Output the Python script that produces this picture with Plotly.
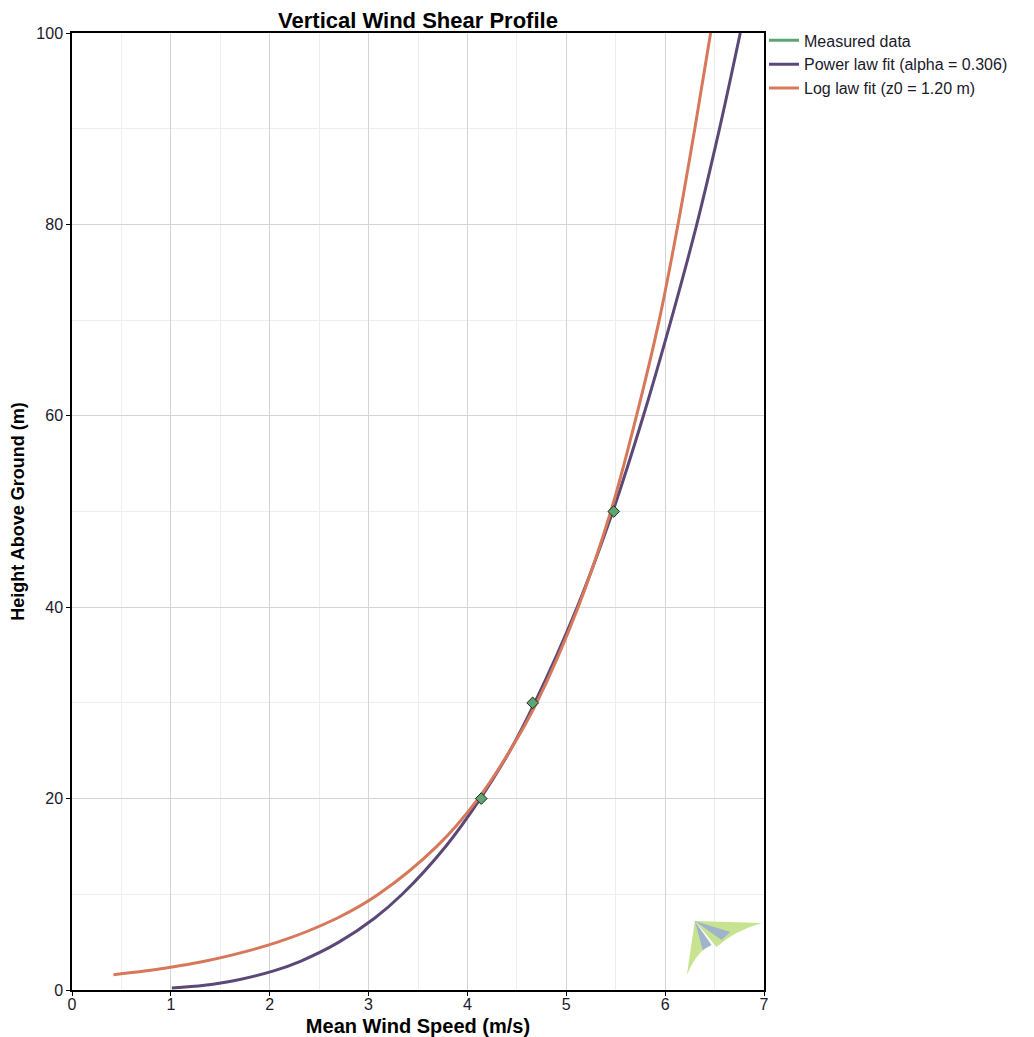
import plotly.graph_objects as go

# Measured data
meas_speed = [4.14, 4.66, 5.48]
meas_height = [20, 30, 50]

# Power law fit (alpha = 0.306)
pow_height = [0.2, 0.5, 1, 2, 3, 5, 7.5, 10, 15, 20, 25, 30, 40, 50, 60, 70, 80, 90, 100]
pow_speed = [1.01, 1.34, 1.65, 2.04, 2.31, 2.70, 3.06, 3.34, 3.78, 4.13, 4.43, 4.68, 5.11, 5.47, 5.78, 6.06, 6.32, 6.55, 6.76]

# Log law fit (z0 = 1.20 m)
log_height = [1.6, 2, 3, 5, 7.5, 10, 15, 20, 25, 30, 40, 50, 60, 70, 80, 90, 100]
log_speed = [0.42, 0.75, 1.34, 2.08, 2.68, 3.10, 3.69, 4.11, 4.43, 4.70, 5.12, 5.45, 5.71, 5.94, 6.13, 6.30, 6.46]

C_MEAS = "#5fa574"
C_POW = "#5b4877"
C_LOG = "#d8785a"
FONT = "Liberation Sans, Arial"

fig = go.Figure()
fig.add_trace(go.Scatter(x=[None], y=[None], mode="lines", name="Measured data",
                         line=dict(color=C_MEAS, width=3)))
fig.add_trace(go.Scatter(x=pow_speed, y=pow_height, mode="lines", name="Power law fit (alpha = 0.306)",
                         line=dict(color=C_POW, width=3, shape="spline")))
fig.add_trace(go.Scatter(x=log_speed, y=log_height, mode="lines", name="Log law fit (z0 = 1.20 m)",
                         line=dict(color=C_LOG, width=3, shape="spline")))
fig.add_trace(go.Scatter(x=meas_speed, y=meas_height, mode="markers", name="Measured data",
                         showlegend=False,
                         marker=dict(symbol="diamond", size=9, color=C_MEAS,
                                     line=dict(color="#1e2a22", width=1))))

# Small decorative logo (bottom right)
GREEN = "#c8e38f"
BLUE = "#9fb4cb"
logo_shapes = [
    dict(type="path", path="M 6.30 7.21 L 6.98 7.0 Q 6.70 6.2 6.52 4.49 Z",
         fillcolor=GREEN, line=dict(width=0), layer="above"),
    dict(type="path", path="M 6.30 7.21 L 6.22 1.57 Q 6.30 3.6 6.42 4.49 Z",
         fillcolor=GREEN, line=dict(width=0), layer="above"),
    dict(type="path", path="M 6.30 7.21 L 6.38 4.18 L 6.47 4.70 Z",
         fillcolor=BLUE, line=dict(width=0), layer="above"),
    dict(type="path", path="M 6.30 7.21 L 6.66 6.06 L 6.57 5.22 Z",
         fillcolor=BLUE, line=dict(width=0), layer="above"),
]

axis_common = dict(
    showline=True, linecolor="black", linewidth=1.5, mirror=True,
    ticks="outside", ticklen=4, tickcolor="black",
    gridcolor="#d4d4d4", gridwidth=1, zeroline=False, automargin=False,
    tickfont=dict(family=FONT, size=16, color="#1a1a2a"),
)

# page body has an 8px margin, so the figure is sized to fit the window
W, H = 1026, 1029

fig.update_layout(
    width=W, height=H,
    margin=dict(l=64, r=270, t=25, b=47),
    paper_bgcolor="white", plot_bgcolor="white",
    title=dict(text="<b>Vertical Wind Shear Profile</b>", x=410/W, xanchor="center",
               yref="container", y=1 - 12/H, yanchor="middle",
               font=dict(family=FONT, size=22, color="black")),
    xaxis=dict(range=[0, 7], dtick=1, tick0=0, ticklabelstandoff=-5,
               minor=dict(dtick=0.5, showgrid=True, gridcolor="#eeeeee"),
               title=dict(text="<b>Mean Wind Speed (m/s)</b>", standoff=8,
                          font=dict(family=FONT, size=20, color="black")),
               **axis_common),
    yaxis=dict(range=[0, 100], dtick=20, tick0=0,
               minor=dict(dtick=10, showgrid=True, gridcolor="#eeeeee"),
               title=dict(text="<b>Height Above Ground (m)</b>", standoff=10,
                          font=dict(family=FONT, size=18, color="black")),
               **axis_common),
    legend=dict(x=1.0, xanchor="left", y=1.01, yanchor="top", xref="paper",
                font=dict(family=FONT, size=16, color="#1a1a2a"),
                bgcolor="rgba(0,0,0,0)", itemwidth=30),
    shapes=logo_shapes,
    showlegend=True,
)

fig.write_html("out.html")
